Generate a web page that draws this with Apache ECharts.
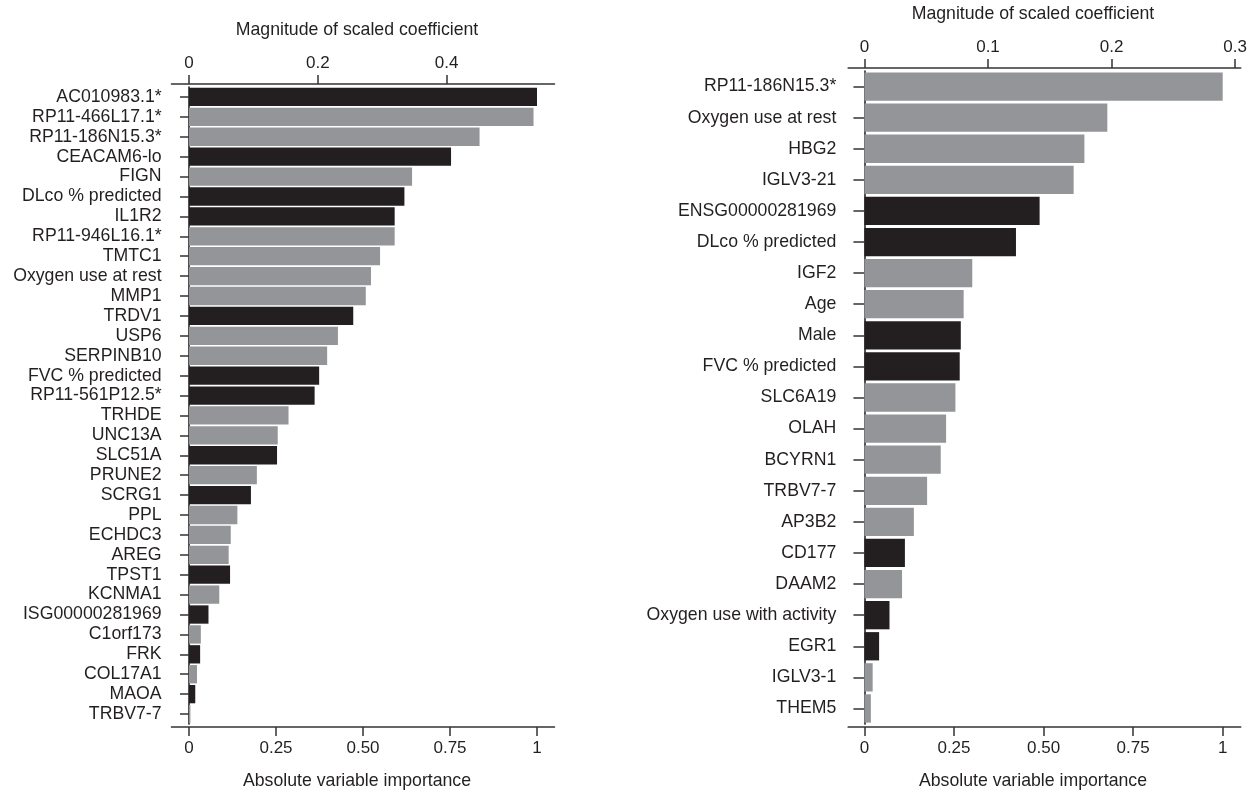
<!DOCTYPE html>
<html><head><meta charset="utf-8">
<script src="https://cdn.jsdelivr.net/npm/echarts@6/dist/echarts.min.js"></script>
<style>html,body{margin:0;padding:0;background:#fff}#c{width:1256px;height:795px}</style>
</head><body><div id="c"></div>
<script>
// ---------- data ----------
const leftCategories = ['AC010983.1*','RP11-466L17.1*','RP11-186N15.3*','CEACAM6-lo','FIGN','DLco % predicted','IL1R2','RP11-946L16.1*','TMTC1','Oxygen use at rest','MMP1','TRDV1','USP6','SERPINB10','FVC % predicted','RP11-561P12.5*','TRHDE','UNC13A','SLC51A','PRUNE2','SCRG1','PPL','ECHDC3','AREG','TPST1','KCNMA1','ISG00000281969','C1orf173','FRK','COL17A1','MAOA','TRBV7-7'];
const leftImportance = [1.0,0.99,0.835,0.753,0.641,0.619,0.591,0.591,0.549,0.523,0.508,0.472,0.428,0.397,0.374,0.361,0.286,0.255,0.253,0.195,0.178,0.139,0.120,0.114,0.118,0.087,0.056,0.034,0.032,0.023,0.018,0.004];
const leftDark = [1,0,0,1,0,1,1,0,0,0,0,1,0,0,1,1,0,0,1,0,1,0,0,0,1,0,1,0,1,0,1,0];

const rightCategories = ['RP11-186N15.3*','Oxygen use at rest','HBG2','IGLV3-21','ENSG00000281969','DLco % predicted','IGF2','Age','Male','FVC % predicted','SLC6A19','OLAH','BCYRN1','TRBV7-7','AP3B2','CD177','DAAM2','Oxygen use with activity','EGR1','IGLV3-1','THEM5'];
const rightImportance = [1.0,0.678,0.614,0.584,0.489,0.423,0.301,0.277,0.269,0.266,0.254,0.228,0.213,0.175,0.138,0.113,0.105,0.070,0.041,0.023,0.018];
const rightDark = [0,0,0,0,1,1,0,0,1,1,0,0,0,0,0,1,0,1,1,0,0];

const bottomTicks = [0,0.25,0.5,0.75,1];
const bottomTickLabels = ['0','0.25','0.50','0.75','1'];
const leftTopTicks = [0,0.2,0.4];
const rightTopTicks = [0,0.1,0.2,0.3];
const leftCoefPerUnit = 0.5404;   // coefficient value at importance = 1
const rightCoefPerUnit = 0.2899;

// ---------- styles ----------
const DARK = '#231f20', GRAY = '#939598', TXT = '#231f20', AX = '#333333';
const FONT = 'Liberation Sans, Arial, sans-serif';
const FS = 17.7, FT = 17;

function bars(vals, dark){
  return vals.map((v,i)=>({value:v, itemStyle:{color: dark[i]?DARK:GRAY}}));
}
function fmtBottom(v){
  const i = bottomTicks.findIndex(t=>Math.abs(t-v)<1e-9);
  return i>=0 ? bottomTickLabels[i] : '';
}
const axLine = {show:true, lineStyle:{color:AX, width:1.7}};
const axTick = (len)=>({show:true, length:len, lineStyle:{color:AX, width:1.5}});

function bottomAxis(grid, min, max, padRight){
  return {
    type:'value', gridIndex:grid, position:'bottom', min:min, max:max, offset:3,
    axisLine:axLine, splitLine:{show:false},
    axisTick:Object.assign(axTick(9),{customValues:bottomTicks}),
    axisLabel:{customValues:bottomTicks, formatter:fmtBottom, color:TXT, fontSize:FT, fontFamily:FONT, margin:13},
    name:'Absolute variable importance', nameLocation:'middle', nameGap:45,
    nameTextStyle:{color:TXT, fontSize:FS, fontFamily:FONT, padding:[0,padRight,0,0]}
  };
}
function topAxis(grid, min, max, ticks, padRight){
  return {
    type:'value', gridIndex:grid, position:'top', min:min, max:max, offset:3,
    axisLine:axLine, splitLine:{show:false},
    axisTick:Object.assign(axTick(9),{customValues:ticks}),
    axisLabel:{customValues:ticks, formatter:(v)=>String(+v.toFixed(2)), color:TXT, fontSize:FT, fontFamily:FONT, margin:12},
    name:'Magnitude of scaled coefficient', nameLocation:'middle', nameGap:45,
    nameTextStyle:{color:TXT, fontSize:FS, fontFamily:FONT, padding:[0,padRight,0,0]}
  };
}
function catAxis(grid, cats, tickLen, margin){
  return {
    type:'category', gridIndex:grid, data:cats, inverse:true,
    axisLine:axLine,
    axisTick:Object.assign(axTick(tickLen),{alignWithLabel:true}),
    axisLabel:{color:TXT, fontSize:FS, fontFamily:FONT, margin:margin, interval:0}
  };
}

const lMin=-0.05, lMax=1.05, rMin=-0.045, rMax=1.05;

const option = {
  animation:false,
  backgroundColor:'#ffffff',
  grid:[
    {left:171.6, right:701.6, top:87, bottom:69},
    {left:848.3, right:15.4, top:70.4, bottom:70.1}
  ],
  xAxis:[
    bottomAxis(0, lMin, lMax, 12),
    topAxis(0, lMin*leftCoefPerUnit, lMax*leftCoefPerUnit, leftTopTicks, 12),
    bottomAxis(1, rMin, rMax, 23),
    topAxis(1, rMin*rightCoefPerUnit, rMax*rightCoefPerUnit, rightTopTicks, 23)
  ],
  yAxis:[
    catAxis(0, leftCategories, 9, 10),
    catAxis(1, rightCategories, 11, 12)
  ],
  series:[
    {type:'bar', xAxisIndex:0, yAxisIndex:0, data:bars(leftImportance,leftDark), barCategoryGap:'8%', silent:true},
    {type:'bar', xAxisIndex:2, yAxisIndex:1, data:bars(rightImportance,rightDark), barCategoryGap:'9%', silent:true}
  ]
};
const chart = echarts.init(document.getElementById('c'), null, {renderer:'canvas'});
chart.setOption(option);
</script>
</body></html>
